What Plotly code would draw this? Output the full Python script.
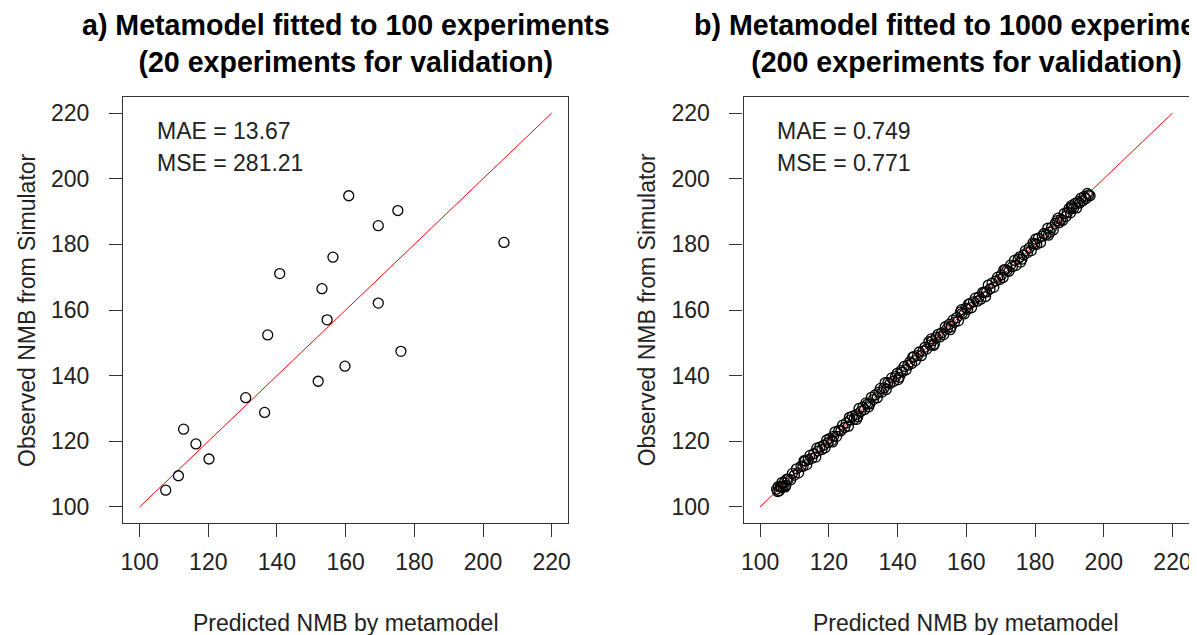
import plotly.graph_objects as go

# ---- data ----
pred_a = [107.6, 111.3, 112.8, 116.4, 120.2, 130.9, 136.4, 137.3, 140.8, 152.0,
          153.1, 154.6, 156.3, 159.8, 160.9, 169.5, 169.5, 175.2, 176.1, 206.1]
obs_a = [105.1, 109.5, 123.7, 119.2, 114.6, 133.3, 128.8, 152.4, 171.1, 138.3,
         166.5, 157.0, 176.1, 142.9, 194.8, 185.7, 162.1, 190.3, 147.4, 180.6]

pred_b = [
    104.8, 105.1, 105.3, 105.6, 105.9, 106.2, 106.4, 106.7, 107.1, 107.5, 107.8, 108.2, 108.9, 109.4, 110.0, 110.6, 111.2, 111.9, 112.5, 113.1,
    113.6, 114.0, 114.5, 115.1, 115.6, 116.2, 116.9, 117.4, 118.0, 118.5, 118.9, 119.4, 119.8, 120.3, 120.9, 121.4, 121.8, 122.3, 122.9, 123.5,
    124.0, 124.6, 125.1, 125.7, 126.2, 126.8, 127.3, 127.9, 128.4, 128.8, 129.3, 129.9, 130.4, 130.8, 131.3, 131.9, 132.4, 133.0, 133.5, 134.1,
    134.6, 135.0, 135.5, 136.1, 136.7, 137.2, 137.8, 138.3, 138.9, 139.4, 139.9, 140.5, 141.0, 141.4, 141.9, 142.5, 143.0, 143.6, 144.1, 144.7,
    145.2, 145.8, 146.3, 146.9, 147.4, 148.0, 148.5, 149.1, 149.6, 150.1, 150.7, 151.2, 151.8, 152.3, 152.8, 153.4, 153.9, 154.5, 155.0, 155.6,
    156.1, 156.6, 157.2, 157.7, 158.3, 158.8, 159.4, 159.9, 160.4, 161.0, 161.5, 162.1, 162.6, 163.2, 163.7, 164.2, 164.8, 165.3, 165.9, 166.4,
    166.9, 167.5, 168.0, 168.6, 169.1, 169.7, 170.2, 170.7, 171.3, 171.8, 172.4, 172.9, 173.4, 174.0, 174.5, 175.1, 175.6, 176.2, 176.7, 177.2,
    177.8, 178.3, 178.9, 179.4, 179.9, 180.5, 181.0, 181.6, 182.1, 182.6, 183.2, 183.7, 184.3, 184.8, 185.3, 185.9, 186.4, 187.0, 187.5, 188.0,
    188.5, 189.0, 189.4, 189.9, 190.3, 190.8, 191.2, 191.7, 192.1, 192.6, 193.0, 193.4, 193.9, 194.3, 194.8, 195.2, 195.6, 196.0, 112.8, 150.4,
    107.3, 116.5, 121.1, 126.0, 131.6, 136.4, 140.2, 144.4, 149.8, 155.3, 160.7, 165.6, 170.9, 175.8, 180.2, 183.9, 186.7, 190.6, 128.1, 158.6,
]
obs_b = [
    105.4, 104.7, 106.2, 104.9, 106.2, 106.0, 107.5, 106.2, 107.5, 106.6, 108.5, 108.4, 108.3, 110.2, 109.7, 111.6, 110.4, 112.4, 112.4, 114.0,
    112.9, 114.4, 115.7, 114.8, 116.2, 115.2, 117.1, 118.2, 117.5, 118.8, 118.0, 120.4, 119.6, 120.9, 120.3, 121.5, 122.9, 121.5, 123.3, 123.2,
    124.9, 124.2, 125.6, 124.6, 126.5, 127.6, 126.7, 128.1, 127.5, 130.0, 129.1, 130.4, 129.7, 131.7, 131.4, 131.4, 133.4, 132.7, 134.1, 133.3,
    135.0, 136.1, 135.0, 136.3, 135.8, 137.9, 137.6, 139.3, 138.3, 139.7, 140.7, 139.5, 141.5, 141.1, 142.8, 141.8, 143.2, 144.2, 143.7, 145.8,
    144.6, 146.1, 147.2, 146.1, 147.5, 148.7, 148.1, 150.3, 149.4, 150.6, 149.6, 151.6, 152.6, 151.8, 153.0, 152.5, 154.9, 154.4, 155.6, 154.9,
    156.9, 156.3, 157.7, 156.7, 159.4, 159.0, 158.8, 160.6, 160.2, 161.9, 160.7, 162.5, 163.6, 162.7, 164.0, 163.3, 165.4, 165.4, 165.5, 167.6,
    166.4, 168.2, 166.9, 168.9, 170.0, 169.3, 170.7, 169.9, 172.3, 172.0, 171.8, 173.7, 173.2, 175.1, 173.6, 175.5, 176.2, 175.5, 176.8, 178.1,
    177.5, 178.9, 178.1, 180.4, 180.1, 180.0, 181.9, 180.6, 182.5, 183.3, 183.0, 184.9, 183.7, 185.1, 184.4, 186.4, 187.2, 186.6, 187.6, 187.3,
    189.4, 188.5, 189.7, 190.9, 189.6, 191.4, 191.0, 192.5, 191.1, 193.0, 192.6, 194.1, 193.3, 194.5, 194.0, 195.5, 195.1, 194.8, 114.1, 149.2,
    106.1, 117.9, 119.8, 127.3, 130.5, 137.9, 138.8, 145.6, 151.2, 154.0, 161.8, 164.1, 172.2, 174.6, 181.6, 182.8, 188.0, 191.8, 126.7, 160.1,
]

identity = [100, 220]
tick_vals = [100, 120, 140, 160, 180, 200, 220]
axis_range = [95.2, 224.8]

titles = ["a) Metamodel fitted to 100 experiments<br>(20 experiments for validation)",
          "b) Metamodel fitted to 1000 experiments<br>(200 experiments for validation)"]
stats = [["MAE = 13.67", "MSE = 281.21"], ["MAE = 0.749", "MSE = 0.771"]]
xlab = "Predicted NMB by metamodel"
ylab = "Observed NMB from Simulator"

# ---- layout geometry (window pixels; page body has an 8px margin) ----
OFF = 8
W, H = 1197 - OFF, 635 - OFF
FONT = "Liberation Sans, Arial, sans-serif"
panels = [(120.7 - OFF, 568.0 - OFF), (744.3 - OFF, 1192.0 - OFF)]
ytop, ybot = 97.3 - OFF, 522.7 - OFF

fig = go.Figure()
for i, (px, py) in enumerate([(pred_a, obs_a), (pred_b, obs_b)]):
    ax = "" if i == 0 else "2"
    fig.add_trace(go.Scatter(x=identity, y=identity, mode="lines",
                             line=dict(color="#ff0000", width=1),
                             xaxis="x" + ax, yaxis="y" + ax, showlegend=False,
                             hoverinfo="skip"))
    fig.add_trace(go.Scatter(x=px, y=py, mode="markers",
                             marker=dict(symbol="circle-open", size=10,
                                         color="black", line=dict(width=1.3)),
                             xaxis="x" + ax, yaxis="y" + ax, showlegend=False))

axis_common = dict(range=axis_range, tickvals=tick_vals, showgrid=False, zeroline=False,
                   showline=True, mirror=True, linecolor="#333333", linewidth=1.3,
                   ticks="outside", ticklen=13, tickwidth=1.3, tickcolor="#333333",
                   tickfont=dict(family=FONT, size=23, color="#222222"))

layout = dict(width=W, height=H, margin=dict(l=0, r=0, t=0, b=0),
              paper_bgcolor="white", plot_bgcolor="white",
              font=dict(family=FONT, color="#222222"))
ydom = [(H - ybot) / H, (H - ytop) / H]
for i, (l, r) in enumerate(panels):
    ax = "" if i == 0 else "2"
    layout["xaxis" + ax] = dict(axis_common, domain=[l / W, r / W], anchor="y" + ax,
                                ticklabelstandoff=6)
    layout["yaxis" + ax] = dict(axis_common, domain=ydom, anchor="x" + ax,
                                ticklabelstandoff=15)
fig.update_layout(**layout)

ann = []
for i, (l, r) in enumerate(panels):
    cx = (l + r) / 2
    ann.append(dict(text="<b>" + titles[i] + "</b>", x=cx / W, y=1 - (43 - OFF) / H,
                    xref="paper", yref="paper", xanchor="center", yanchor="middle",
                    showarrow=False, font=dict(family=FONT, size=28.6, color="black")))
    ann.append(dict(text=xlab, x=cx / W, y=1 - (623 - OFF) / H, xref="paper", yref="paper",
                    xanchor="center", yanchor="middle", showarrow=False,
                    font=dict(family=FONT, size=23, color="#222222")))
    ann.append(dict(text=ylab, x=(l - 96.7) / W, y=1 - (310 - OFF) / H, xref="paper",
                    yref="paper", xanchor="center", yanchor="middle", textangle=-90,
                    showarrow=False, font=dict(family=FONT, size=23, color="#222222")))
    for j, s in enumerate(stats[i]):
        ann.append(dict(text=s, x=(l + 32) / W, y=1 - (130.5 - OFF + 32.5 * j) / H,
                        xref="paper", yref="paper", xanchor="left", yanchor="middle",
                        showarrow=False, font=dict(family=FONT, size=23, color="#222222")))
fig.update_layout(annotations=ann)

fig.write_html("out.html")
